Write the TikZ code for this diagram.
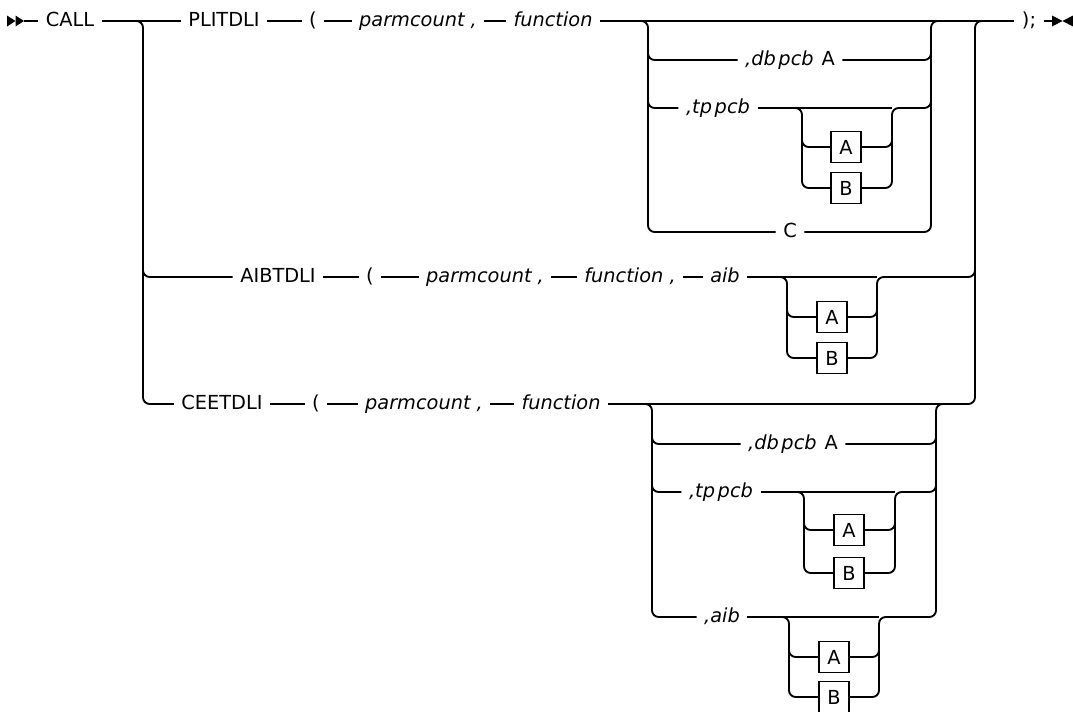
\documentclass[tikz,border=0pt]{standalone}
\usepackage{fontspec}
\setmainfont{DejaVu Sans}
\usetikzlibrary{calc}
\begin{document}
\begin{tikzpicture}[x=0.75pt,y=-0.75pt,line width=1.4pt,
  rr/.style={rounded corners=5pt},
  t/.style={inner xsep=5pt,inner ysep=0pt,text height=9pt,text depth=1pt,font=\fontsize{14.5}{17}\selectfont},
  v/.style={t,font=\fontsize{14.5}{17}\selectfont\itshape},
  bx/.style={draw,line width=1.1pt,minimum width=22.5pt,minimum height=23.5pt,inner sep=0pt,text height=10.5pt,text depth=0pt,font=\fontsize{14.5}{17}\selectfont}]
\useasboundingbox (0,0) rectangle (1073,711);
% junction coordinates
\coordinate (st) at (24,21);
\coordinate (en) at (1055,21);
\coordinate (bl) at (143,21);
\coordinate (g1l) at (648,21);
\coordinate (g1r) at (931,21);
\coordinate (s1l) at (802,108);
\coordinate (s1r) at (892,108);
\coordinate (s2l) at (787,277);
\coordinate (s2r) at (877,277);
\coordinate (or) at (975,21);
\coordinate (g3l) at (652,404);
\coordinate (g3r) at (936,404);
\coordinate (s3l) at (804,492);
\coordinate (s3r) at (895,492);
\coordinate (s4l) at (789,617);
\coordinate (s4r) at (879,617);
% row 1
\node[t] (call) at (70,21) {CALL};
\node[t] (plit) at (224,21) {PLITDLI};
\node[t] (lp1) at (313,21) {(};
\node[v] (pc1) at (418,21) {parmcount ,};
\node[v] (fn1) at (553,21) {function};
\node[t] (endt) at (1029,21) {);};
\node[t] (db1) at (790,60) {{\itshape ,db\hspace{2pt}pcb}\hspace{6pt}A};
\node[v] (tp1) at (718,108) {,tp\hspace{2pt}pcb};
\node[bx] (A1) at (846,147) {A};
\node[bx] (B1) at (846,188) {B};
\node[t] (c1) at (790,232) {C};
% row 2
\node[t] (aibt) at (278,277) {AIBTDLI};
\node[t] (lp2) at (370,277) {(};
\node[v] (pc2) at (485,277) {parmcount ,};
\node[v] (fn2) at (630,277) {function ,};
\node[v] (aib2) at (725,277) {aib};
\node[bx] (A2) at (832,317) {A};
\node[bx] (B2) at (832,358) {B};
% row 3
\node[t] (ceet) at (222,404) {CEETDLI};
\node[t] (lp3) at (316,404) {(};
\node[v] (pc3) at (424,404) {parmcount ,};
\node[v] (fn3) at (561,404) {function};
\node[t] (db3) at (793,444) {{\itshape ,db\hspace{2pt}pcb}\hspace{6pt}A};
\node[v] (tp3) at (721,492) {,tp\hspace{2pt}pcb};
\node[bx] (A3) at (849,530) {A};
\node[bx] (B3) at (849,573) {B};
\node[v] (aib3) at (722,617) {,aib};
\node[bx] (A4) at (834,657) {A};
\node[bx] (B4) at (834,697) {B};
% start / end symbols
\fill (7,15.5) -- (15.5,21) -- (7,26.5) -- cycle;
\fill (15.5,15.5) -- (24,21) -- (15.5,26.5) -- cycle;
\fill (1052,15.5) -- (1062.5,21) -- (1052,26.5) -- cycle;
\fill (1073,15.5) -- (1062.5,21) -- (1073,26.5) -- cycle;
% row 1 lines
\draw (st) -- (call);
\draw (call) -- (plit);
\draw (plit) -- (lp1);
\draw (lp1) -- (pc1);
\draw (pc1) -- (fn1);
\draw (fn1) -- (endt);
\draw (endt) -- (en);
% group 1
\draw[rr] ($(g1l)+(-10,0)$) -- (g1l) |- (c1);
\draw[rr] ($(g1l)+(0,10)$) |- (db1);
\draw[rr] ($(g1l)+(0,10)$) |- (tp1);
\draw[rr] (db1) -| ($(g1r)+(0,10)$);
\draw[rr] (c1) -| (g1r) -- ($(g1r)+(10,0)$);
\draw (tp1) -- (s1l) -- (s1r);
\draw[rr] ($(s1l)+(-10,0)$) -- (s1l) |- (B1);
\draw[rr] ($(s1l)+(0,10)$) |- (A1);
\draw[rr] (A1) -| ($(s1r)+(0,10)$);
\draw[rr] (B1) -| (s1r) -| ($(g1r)+(0,10)$);
% main branch
\draw[rr] ($(bl)+(-10,0)$) -- (bl) |- (ceet);
\draw[rr] ($(bl)+(0,10)$) |- (aibt);
% row 2
\draw (aibt) -- (lp2);
\draw (lp2) -- (pc2);
\draw (pc2) -- (fn2);
\draw (fn2) -- (aib2);
\draw (aib2) -- (s2l) -- (s2r);
\draw[rr] ($(s2l)+(-10,0)$) -- (s2l) |- (B2);
\draw[rr] ($(s2l)+(0,10)$) |- (A2);
\draw[rr] (A2) -| ($(s2r)+(0,10)$);
\draw[rr] (B2) -| (s2r) -| ($(or)+(0,10)$);
% row 3
\draw (ceet) -- (lp3);
\draw (lp3) -- (pc3);
\draw (pc3) -- (fn3);
\draw[rr] (fn3) -| (or) -- ($(or)+(10,0)$);
\draw[rr] ($(g3l)+(-10,0)$) -- (g3l) |- (aib3);
\draw[rr] ($(g3l)+(0,10)$) |- (db3);
\draw[rr] ($(g3l)+(0,10)$) |- (tp3);
\draw[rr] (db3) -| ($(g3r)+(0,10)$);
\draw (tp3) -- (s3l) -- (s3r);
\draw[rr] ($(s3l)+(-10,0)$) -- (s3l) |- (B3);
\draw[rr] ($(s3l)+(0,10)$) |- (A3);
\draw[rr] (A3) -| ($(s3r)+(0,10)$);
\draw[rr] (B3) -| (s3r) -| ($(g3r)+(0,10)$);
\draw (aib3) -- (s4l) -- (s4r);
\draw[rr] ($(s4l)+(-10,0)$) -- (s4l) |- (B4);
\draw[rr] ($(s4l)+(0,10)$) |- (A4);
\draw[rr] (A4) -| ($(s4r)+(0,10)$);
\draw[rr] (B4) -| (s4r) -| (g3r) -- ($(g3r)+(10,0)$);
\end{tikzpicture}
\end{document}
